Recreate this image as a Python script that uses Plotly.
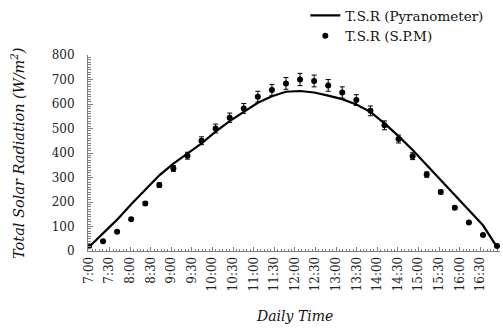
import plotly.graph_objects as go

# ---- data ----
time_labels = ["7:00", "7:30", "8:00", "8:30", "9:00", "9:30", "10:00", "10:30",
               "11:00", "11:30", "12:00", "12:30", "13:00", "13:30", "14:00",
               "14:30", "15:00", "15:30", "16:00", "16:30"]
samples = list(range(1, 31))
pyranometer = [16, 71, 128, 191, 251, 309, 357, 398, 439, 487, 530, 568, 605, 632, 650,
               653, 647, 634, 620, 598, 568, 521, 469, 412, 350, 289, 228, 166, 105, 16]
spm = [19, 40, 79, 130, 194, 269, 337, 389, 450, 500, 544, 582, 630, 657, 684,
       700, 694, 676, 647, 616, 572, 513, 457, 387, 312, 241, 177, 116, 65, 20]
spm_err = [1, 2, 3, 5, 7, 9, 12, 14, 16, 18, 19, 20, 22, 23, 24,
           25, 24, 24, 23, 22, 20, 18, 16, 14, 11, 8, 6, 4, 2, 1]

# sample spacing on the time axis (minutes per sample), start of day
SAMPLE_MIN = 20.5
START_MIN = 7 * 60


def to_pos(s):
    h, m = s.split(":")
    return 1 + (int(h) * 60 + int(m) - START_MIN) / SAMPLE_MIN


tick_vals = [to_pos(s) for s in time_labels]

SERIF = "DejaVu Serif"
fig = go.Figure()
fig.add_trace(go.Scatter(
    x=samples, y=pyranometer, mode="lines", legendgroup="a",
    name="T.S.R (Pyranometer)", line=dict(color="black", width=2.2)))
fig.add_trace(go.Scatter(
    x=samples, y=spm, mode="markers", legendgroup="b",
    name="T.S.R (S.P.M)", marker=dict(color="black", size=6),
    error_y=dict(type="data", array=spm_err, color="black", thickness=1, width=2.5)))

axis_col = "#808080"
fig.update_layout(
    width=503, height=328,
    margin=dict(l=88, r=3, t=55, b=77, autoexpand=False),
    paper_bgcolor="white", plot_bgcolor="white",
    font=dict(family=SERIF, size=12, color="#222"),
    showlegend=True,
    legend=dict(xref="container", yref="container", x=0.607, y=1.01,
                xanchor="left", yanchor="top",
                font=dict(family=SERIF, size=13.5, color="#111"),
                bgcolor="rgba(0,0,0,0)", itemwidth=30, tracegroupgap=0),
    xaxis=dict(
        range=[0.93, 30.21], tickmode="array", tickvals=tick_vals, ticktext=time_labels,
        tickangle=-90, showgrid=False, zeroline=False, automargin=False,
        showline=True, linecolor=axis_col, linewidth=1,
        ticks="inside", ticklen=4, tickcolor=axis_col,
        minor=dict(dtick=5 / SAMPLE_MIN, tick0=1, ticks="inside", ticklen=2,
                   tickcolor=axis_col, showgrid=False),
        tickfont=dict(family=SERIF, size=12, color="#222"),
    ),
    yaxis=dict(
        range=[0, 800], dtick=100, showgrid=False, zeroline=False, automargin=False,
        showline=True, linecolor=axis_col, linewidth=1,
        ticks="inside", ticklen=5, tickcolor=axis_col,
        minor=dict(dtick=10, ticks="inside", ticklen=3, tickcolor=axis_col, showgrid=False),
        tickfont=dict(family=SERIF, size=12, color="#222"),
        ticklabelstandoff=10,
    ),
    annotations=[
        dict(text="Total Solar Radiation (W/m<sup>2</sup>)", xref="paper", yref="paper",
             x=-0.17, y=0.5, xanchor="center", yanchor="middle", textangle=-90,
             showarrow=False, font=dict(family=SERIF, size=14.5, style="italic", color="#111")),
        dict(text="Daily Time", xref="paper", yref="paper",
             x=0.5, y=-0.332, xanchor="center", yanchor="middle",
             showarrow=False, font=dict(family=SERIF, size=14, style="italic", color="#111")),
    ],
)

fig.write_html("out.html", config={"displayModeBar": False},
               post_script="document.body.style.margin='0';document.body.style.padding='0';")
